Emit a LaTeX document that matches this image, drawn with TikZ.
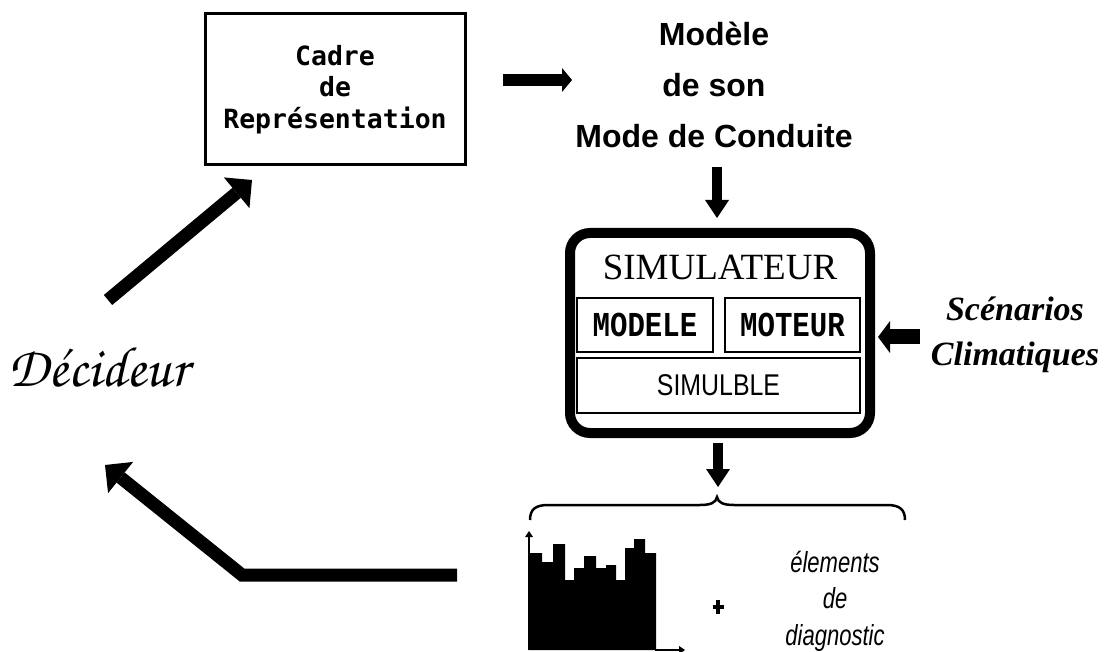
\documentclass[tikz,border=0pt]{standalone}
\usepackage{fontspec}
\setmainfont{Liberation Serif}
\newfontfamily\boxmono{DejaVu Sans Mono}
\newfontfamily\helv{Liberation Sans}
\newfontfamily\cour{Liberation Mono}
\newfontfamily\chorusfont{TeX Gyre Chorus}
\usetikzlibrary{arrows.meta}

\tikzset{
  pushright/.style={line width=12pt, -{Triangle[length=10pt,width=24pt,line width=0pt]}},
  pushdown/.style={line width=10pt, -{Triangle[length=18pt,width=24pt,line width=0pt]}},
  pushleft/.style={line width=15pt, -{Triangle[length=12pt,width=32pt,line width=0pt]}},
  feedback/.style={line width=13pt, line join=miter, -{Triangle[length=20pt,width=40pt,line width=0pt]}},
  thinbox/.style={draw, line width=2.5pt, inner sep=0pt},
  axis/.style={line width=2pt, -{Triangle[length=6pt,width=8pt,line width=0pt]}}
}
\newcommand{\narrow}[1]{\scalebox{0.76}[1]{#1}}

\begin{document}
\begin{tikzpicture}[x=1pt,y=-1pt]
  \fill[white] (0,0) rectangle (1106,652);
  \useasboundingbox (0,0) rectangle (1106,652);

  % framing box
  \node[draw, line width=3pt, minimum width=260pt, minimum height=151pt, align=center,
        font=\boxmono\bfseries\fontsize{26.5}{31.5}\selectfont] (cadre) at (335,89.5)
        {Cadre\\de\\Représentation};

  % model of the driving mode
  \node[align=center, font=\helv\bfseries\fontsize{32}{51}\selectfont] (modele) at (714,85)
        {Modèle\\de son\\Mode de Conduite};

  % simulator block
  \node[draw, line width=10pt, rounded corners=20pt, minimum width=300pt, minimum height=200pt] (sim) at (720,333) {};
  \node[font=\fontsize{37}{40}\selectfont] (simtitle) at (720,267) {SIMULATEUR};
  \node[thinbox, minimum width=136pt, minimum height=54pt] (smodele) at (645,325)
        {\scalebox{0.83}[1]{\cour\bfseries\fontsize{35}{38}\selectfont MODELE}};
  \node[thinbox, minimum width=135pt, minimum height=54pt] (smoteur) at (792.5,325)
        {\scalebox{0.83}[1]{\cour\bfseries\fontsize{35}{38}\selectfont MOTEUR}};
  \node[thinbox, minimum width=283pt, minimum height=55pt] (simulble) at (718.5,385.5)
        {\scalebox{0.83}[1]{\helv\fontsize{30}{34}\selectfont SIMULBLE}};

  % climate scenarios
  \node[align=center, font=\bfseries\itshape\fontsize{34}{45}\selectfont] (scen) at (1015,335)
        {Scénarios\\Climatiques};

  % decision maker
  \node[font=\chorusfont\fontsize{57}{60}\selectfont] (decideur) at (99,368) {Décideur};

  % outputs: histogram + diagnostic elements
  \fill (529,650) -- (529,553) -- (542,553) -- (542,562) -- (553,562) -- (553,544)
        -- (565,544) -- (565,580) -- (574,580) -- (574,568) -- (584,568) -- (584,556)
        -- (596,556) -- (596,568) -- (606,568) -- (606,565) -- (616,565) -- (616,580)
        -- (625,580) -- (625,548) -- (634,548) -- (634,539) -- (645,539) -- (645,553)
        -- (656,553) -- (656,650) -- cycle;
  \coordinate (origin) at (529,650);
  \coordinate (yend) at (529,531);
  \coordinate (xstart) at (655,650);
  \coordinate (xend) at (685,650);
  \draw[axis] (origin) -- (yend);
  \draw[axis] (xstart) -- (xend);

  \node (plus) at (718,607) {};
  \draw[line width=4.5pt] ([yshift=-7pt]plus.center) -- ([yshift=7pt]plus.center)
                        ([xshift=-5.5pt]plus.center) -- ([xshift=5.5pt]plus.center);

  \node[align=center, font=\helv\itshape\fontsize{29}{36.5}\selectfont] (diag) at (835,601)
        {\narrow{élements}\\\narrow{de}\\\narrow{diagnostic}};

  % brace over the outputs
  \draw[line width=2.5pt] (530,520) .. controls (530,509) and (536,505) .. (548,505)
        -- (700,505) .. controls (710,505) and (716,503) .. (717,497)
        .. controls (718,503) and (724,505) .. (734,505)
        -- (887,505) .. controls (899,505) and (905,509) .. (905,520);

  % arrow end points
  \coordinate (cadreout) at (503,80);
  \coordinate (modelein) at (572,80);
  \coordinate (modeleout) at (717,167);
  \coordinate (simin) at (717,218);
  \coordinate (simout) at (718,443);
  \coordinate (bracein) at (718,487);
  \coordinate (scenout) at (920,337);
  \coordinate (simright) at (878,337);
  \coordinate (decout) at (108,300);
  \coordinate (cadrein) at (252,180);
  \coordinate (resout) at (457,575);
  \coordinate (bend) at (242,575);
  \coordinate (decin) at (105,465);

  % connectors
  \draw[pushright] (cadreout) -- (modelein);
  \draw[pushdown] (modeleout) -- (simin);
  \draw[pushdown] (simout) -- (bracein);
  \draw[pushleft] (scenout) -- (simright);
  \draw[feedback] (decout) -- (cadrein);
  \draw[feedback] (resout) -- (bend) -- (decin);
\end{tikzpicture}
\end{document}
